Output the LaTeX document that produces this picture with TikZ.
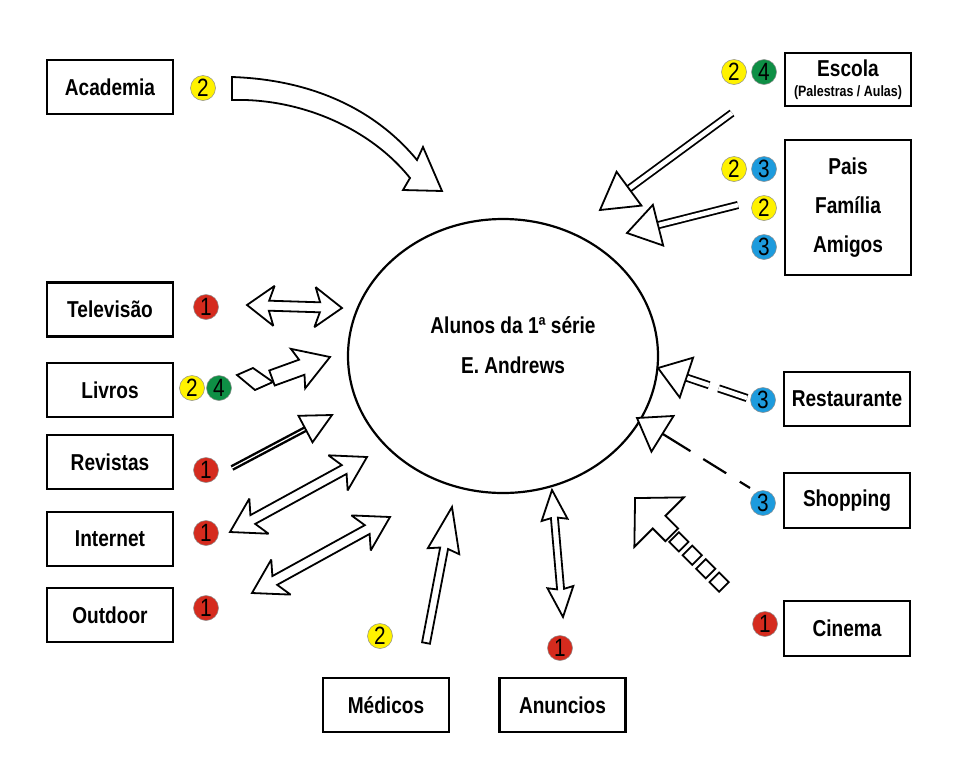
\documentclass[tikz,border=0pt]{standalone}
\usepackage{fontspec}
\setmainfont{Liberation Sans}
\newfontfamily\narrowfont[FakeStretch=0.83]{Liberation Sans}
\usepackage{tikz}
\usetikzlibrary{shapes.geometric,calc}
\definecolor{byellow}{HTML}{FFF200}
\definecolor{bgreen}{HTML}{0E8F45}
\definecolor{bblue}{HTML}{1D9BDD}
\definecolor{bred}{HTML}{D52B1E}

% block arrow: [opts]{from}{to}{shaft}{head}{head length}{notch}
\newcommand{\blockarrow}[7][]{%
  \draw[blockarr,#1] let \p1=($(#3)-(#2)$), \n1={veclen(\x1,\y1)}, \n2={atan2(\y1,\x1)} in
    [shift={(#2)}, rotate=\n2]
    (0,#4) -- ({\n1-#6},#4) -- ({\n1-#6-#7},#5) -- (\n1,0) -- ({\n1-#6-#7},-#5)
    -- ({\n1-#6},-#4) -- (0,-#4) -- cycle;}
% same, with a head at both ends
\newcommand{\dblockarrow}[7][]{%
  \draw[blockarr,#1] let \p1=($(#3)-(#2)$), \n1={veclen(\x1,\y1)}, \n2={atan2(\y1,\x1)} in
    [shift={(#2)}, rotate=\n2]
    (0,0) -- ({#6+#7},#5) -- (#6,#4) -- ({\n1-#6},#4) -- ({\n1-#6-#7},#5) -- (\n1,0)
    -- ({\n1-#6-#7},-#5) -- ({\n1-#6},-#4) -- (#6,-#4) -- ({#6+#7},-#5) -- cycle;}
% line + open triangle: [line opts]{from}{to}{head}{head length}
\newcommand{\linearrow}[5][]{%
  \draw[#1] (#2) -- ($(#3)!#5pt!(#2)$);
  \draw[blockarr] let \p1=($(#3)-(#2)$), \n2={atan2(\y1,\x1)} in
    [shift={(#3)}, rotate=\n2] (0,0) -- (-#5,#4) -- (-#5,-#4) -- cycle;}

\begin{document}
\begin{tikzpicture}[
    x=1pt, y=-1pt,
    box/.style={draw,line width=2.6pt,minimum width=126pt,minimum height=54pt,inner sep=0pt,align=center,
      font=\narrowfont\bfseries\fontsize{23}{26}\selectfont},
    badge/.style={circle,fill=#1,draw=black!45,line width=0.5pt,minimum size=25pt,inner sep=0pt,
      font=\narrowfont\fontsize{25}{25}\selectfont},
    blockarr/.style={draw=black,fill=white,line width=1.8pt,miter limit=3},
    twoline/.style={double,double distance=4.5pt,line width=1.8pt},
    heavyline/.style={double,double distance=1.2pt,line width=2.4pt}
  ]
    \useasboundingbox (0,0) rectangle (956,769);

    % centre
    \node[draw,ellipse,line width=2.2pt,minimum width=310pt,minimum height=274pt] (alunos) at (503,356) {};
    \node[align=center,font=\narrowfont\bfseries\fontsize{23}{40}\selectfont] (alunostxt) at (513,345)
      {Alunos da 1ª série\\E. Andrews};

    % left column
    \node[box] (academia) at (110,87) {Academia};
    \node[box] (televisao) at (110,309.5) {Televisão};
    \node[box] (livros) at (110,390) {Livros};
    \node[box] (revistas) at (110,462) {Revistas};
    \node[box] (internet) at (110,539) {Internet};
    \node[box] (outdoor) at (110,615) {Outdoor};

    % right column
    \node[box,minimum height=53pt] (escola) at (848,79.5)
      {Escola\\[-6pt]{\fontsize{15}{16}\selectfont(Palestras / Aulas)}};
    \node[box,minimum height=135pt,font=\narrowfont\bfseries\fontsize{23}{39}\selectfont] (pais) at (848,207.5)
      {Pais\\Família\\Amigos};
    \node[box] (restaurante) at (847,399) {Restaurante};
    \node[box,minimum height=55pt] (shopping) at (847,500.5) {Shopping};
    \node[box,minimum height=55pt] (cinema) at (847,628.5) {Cinema};

    % bottom
    \node[box] (medicos) at (386,705) {Médicos};
    \node[box] (anuncios) at (562.5,705) {Anuncios};

    % badges
    \node[badge=byellow] (b-aca) at (203,88) {2};
    \node[badge=bred] (b-tel) at (206,307) {1};
    \node[badge=byellow] (b-liv1) at (192,388) {2};
    \node[badge=bgreen] (b-liv2) at (219,388) {4};
    \node[badge=bred] (b-rev) at (206,470) {1};
    \node[badge=bred] (b-int) at (206,533) {1};
    \node[badge=bred] (b-out) at (206,608) {1};
    \node[badge=byellow] (b-med) at (380,636) {2};
    \node[badge=bred] (b-anu) at (560,648) {1};
    \node[badge=byellow] (b-esc1) at (734,72) {2};
    \node[badge=bgreen] (b-esc2) at (764,72) {4};
    \node[badge=byellow] (b-pai1) at (734,169) {2};
    \node[badge=bblue] (b-pai2) at (764,169) {3};
    \node[badge=byellow] (b-fam) at (764,208) {2};
    \node[badge=bblue] (b-ami) at (764,247) {3};
    \node[badge=bblue] (b-res) at (763,400) {3};
    \node[badge=bblue] (b-sho) at (763,503) {3};
    \node[badge=bred] (b-cin) at (765,624) {1};

    % arrow ends
    \coordinate (esc-a) at (732,113);  \coordinate (esc-b) at (600,210);
    \coordinate (pai-a) at (738,205);  \coordinate (pai-b) at (627,233);
    \coordinate (res-a) at (747,398);  \coordinate (res-b) at (658,368);
    \coordinate (sho-a) at (750,488);  \coordinate (sho-b) at (637,418);
    \coordinate (cin-a) at (729,592);  \coordinate (cin-b) at (635,498);
    \coordinate (tel-a) at (247,305);  \coordinate (tel-b) at (342,308);
    \coordinate (liv-a) at (272,378);  \coordinate (liv-b) at (330,357);
    \coordinate (rev-a) at (232,468);  \coordinate (rev-b) at (332,415);
    \coordinate (int-a) at (230,532);  \coordinate (int-b) at (367,457);
    \coordinate (out-a) at (252,593);  \coordinate (out-b) at (390,517);
    \coordinate (med-a) at (426,643);  \coordinate (med-b) at (452,507);
    \coordinate (anu-a) at (552,490);  \coordinate (anu-b) at (563,617);

    % academia, curved
    \draw[blockarr] (232,77) .. controls (320,80) and (380,115) .. (417,160) -- (423,147) -- (442,191)
      -- (403,190) -- (410,178) .. controls (370,128) and (300,98) .. (232,100) -- cycle;

    \linearrow[twoline]{esc-a}{esc-b}{21}{36}
    \linearrow[twoline]{pai-a}{pai-b}{21}{32}
    \linearrow[twoline,dash pattern=on 30pt off 10pt]{res-a}{res-b}{21}{30}
    \linearrow[line width=2.2pt,dash pattern=on 12pt off 16pt on 27pt off 15pt on 40pt]{sho-a}{sho-b}{21}{30}
    \linearrow[heavyline]{rev-a}{rev-b}{15}{30}

    % cinema: head and a row of squares
    \coordinate (cin-s) at ($(cin-b)!52pt!(cin-a)$);
    \blockarrow{cin-s}{cin-b}{9}{35}{34}{0}
    \foreach \d in {62,81,100,119}
      \draw[blockarr,shift={($(cin-b)!\d pt!(cin-a)$)},rotate=45] (-6.8,-6.8) -- (6.8,-6.8) -- (6.8,6.8) -- (-6.8,6.8) -- cycle;

    % livros
    \draw[blockarr] (237,375) -- (253,368) -- (273,382) -- (255,390) -- cycle;
    \blockarrow{liv-a}{liv-b}{8}{21}{30}{4}

    \dblockarrow{tel-a}{tel-b}{5}{20}{22}{5}
    \dblockarrow{int-a}{int-b}{5}{20}{26}{7}
    \dblockarrow{out-a}{out-b}{5}{20}{26}{7}
    \blockarrow{med-a}{med-b}{4}{16}{42}{3}
    \dblockarrow{anu-a}{anu-b}{3.5}{13}{28}{2}
  \end{tikzpicture}
\end{document}
